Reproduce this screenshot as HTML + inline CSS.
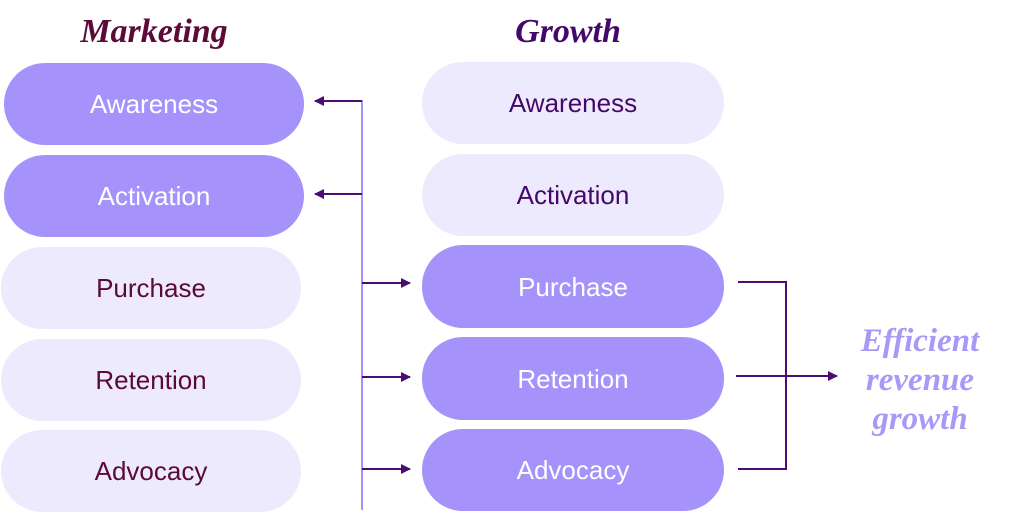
<!DOCTYPE html>
<html><head><meta charset="utf-8"><style>
html,body{margin:0;padding:0;background:#fff;width:1024px;height:513px;overflow:hidden}
</style></head><body>
<svg width="1024" height="513" viewBox="0 0 1024 513" xmlns="http://www.w3.org/2000/svg">
<defs>
<marker id="ah" markerWidth="10" markerHeight="10" refX="9" refY="5" orient="auto" markerUnits="userSpaceOnUse">
<path d="M0,0 L10,5 L0,10 Z" fill="#4a0e72"/></marker>
</defs>
<g font-family="Liberation Serif, serif" font-style="italic" font-weight="bold" font-size="34" text-anchor="middle">
<text x="154" y="42" fill="#5c0b38">Marketing</text>
<text x="568" y="42" fill="#44086a">Growth</text>
</g>
<g font-family="Liberation Sans, sans-serif" font-size="26" text-anchor="middle">
<rect x="4" y="63" width="300" height="82" rx="41" fill="#a592fa"/>
<text x="154" y="113" fill="#fff">Awareness</text>
<rect x="4" y="155" width="300" height="82" rx="41" fill="#a592fa"/>
<text x="154" y="205" fill="#fff">Activation</text>
<rect x="1" y="247" width="300" height="82" rx="41" fill="#eeeafd"/>
<text x="151" y="297" fill="#5a0a36">Purchase</text>
<rect x="1" y="339" width="300" height="82" rx="41" fill="#eeeafd"/>
<text x="151" y="389" fill="#5a0a36">Retention</text>
<rect x="1" y="430" width="300" height="82" rx="41" fill="#eeeafd"/>
<text x="151" y="480" fill="#5a0a36">Advocacy</text>

<rect x="422" y="62" width="302" height="82" rx="41" fill="#eeeafd"/>
<text x="573" y="112" fill="#44086a">Awareness</text>
<rect x="422" y="154" width="302" height="82" rx="41" fill="#eeeafd"/>
<text x="573" y="204" fill="#44086a">Activation</text>
<rect x="422" y="245" width="302" height="83" rx="41" fill="#a592fa"/>
<text x="573" y="296" fill="#fff">Purchase</text>
<rect x="422" y="337" width="302" height="83" rx="41" fill="#a592fa"/>
<text x="573" y="388" fill="#fff">Retention</text>
<rect x="422" y="429" width="302" height="82" rx="41" fill="#a592fa"/>
<text x="573" y="479" fill="#fff">Advocacy</text>
</g>
<line x1="362" y1="100" x2="362" y2="510" stroke="#a592fa" stroke-width="2"/>
<g stroke="#4a0e72" stroke-width="2" fill="none">
<line x1="362" y1="101" x2="315" y2="101" marker-end="url(#ah)"/>
<line x1="362" y1="194" x2="315" y2="194" marker-end="url(#ah)"/>
<line x1="362" y1="283" x2="410" y2="283" marker-end="url(#ah)"/>
<line x1="362" y1="377" x2="410" y2="377" marker-end="url(#ah)"/>
<line x1="362" y1="469" x2="410" y2="469" marker-end="url(#ah)"/>
<polyline points="738,282 786,282 786,469 738,469"/>
<line x1="736" y1="376" x2="837" y2="376" marker-end="url(#ah)"/>
</g>
<g font-family="Liberation Serif, serif" font-style="italic" font-weight="bold" font-size="33" fill="#a899f7" text-anchor="middle">
<text x="920" y="351">Efficient</text>
<text x="920" y="390">revenue</text>
<text x="920" y="429">growth</text>
</g>
</svg>
</body></html>
